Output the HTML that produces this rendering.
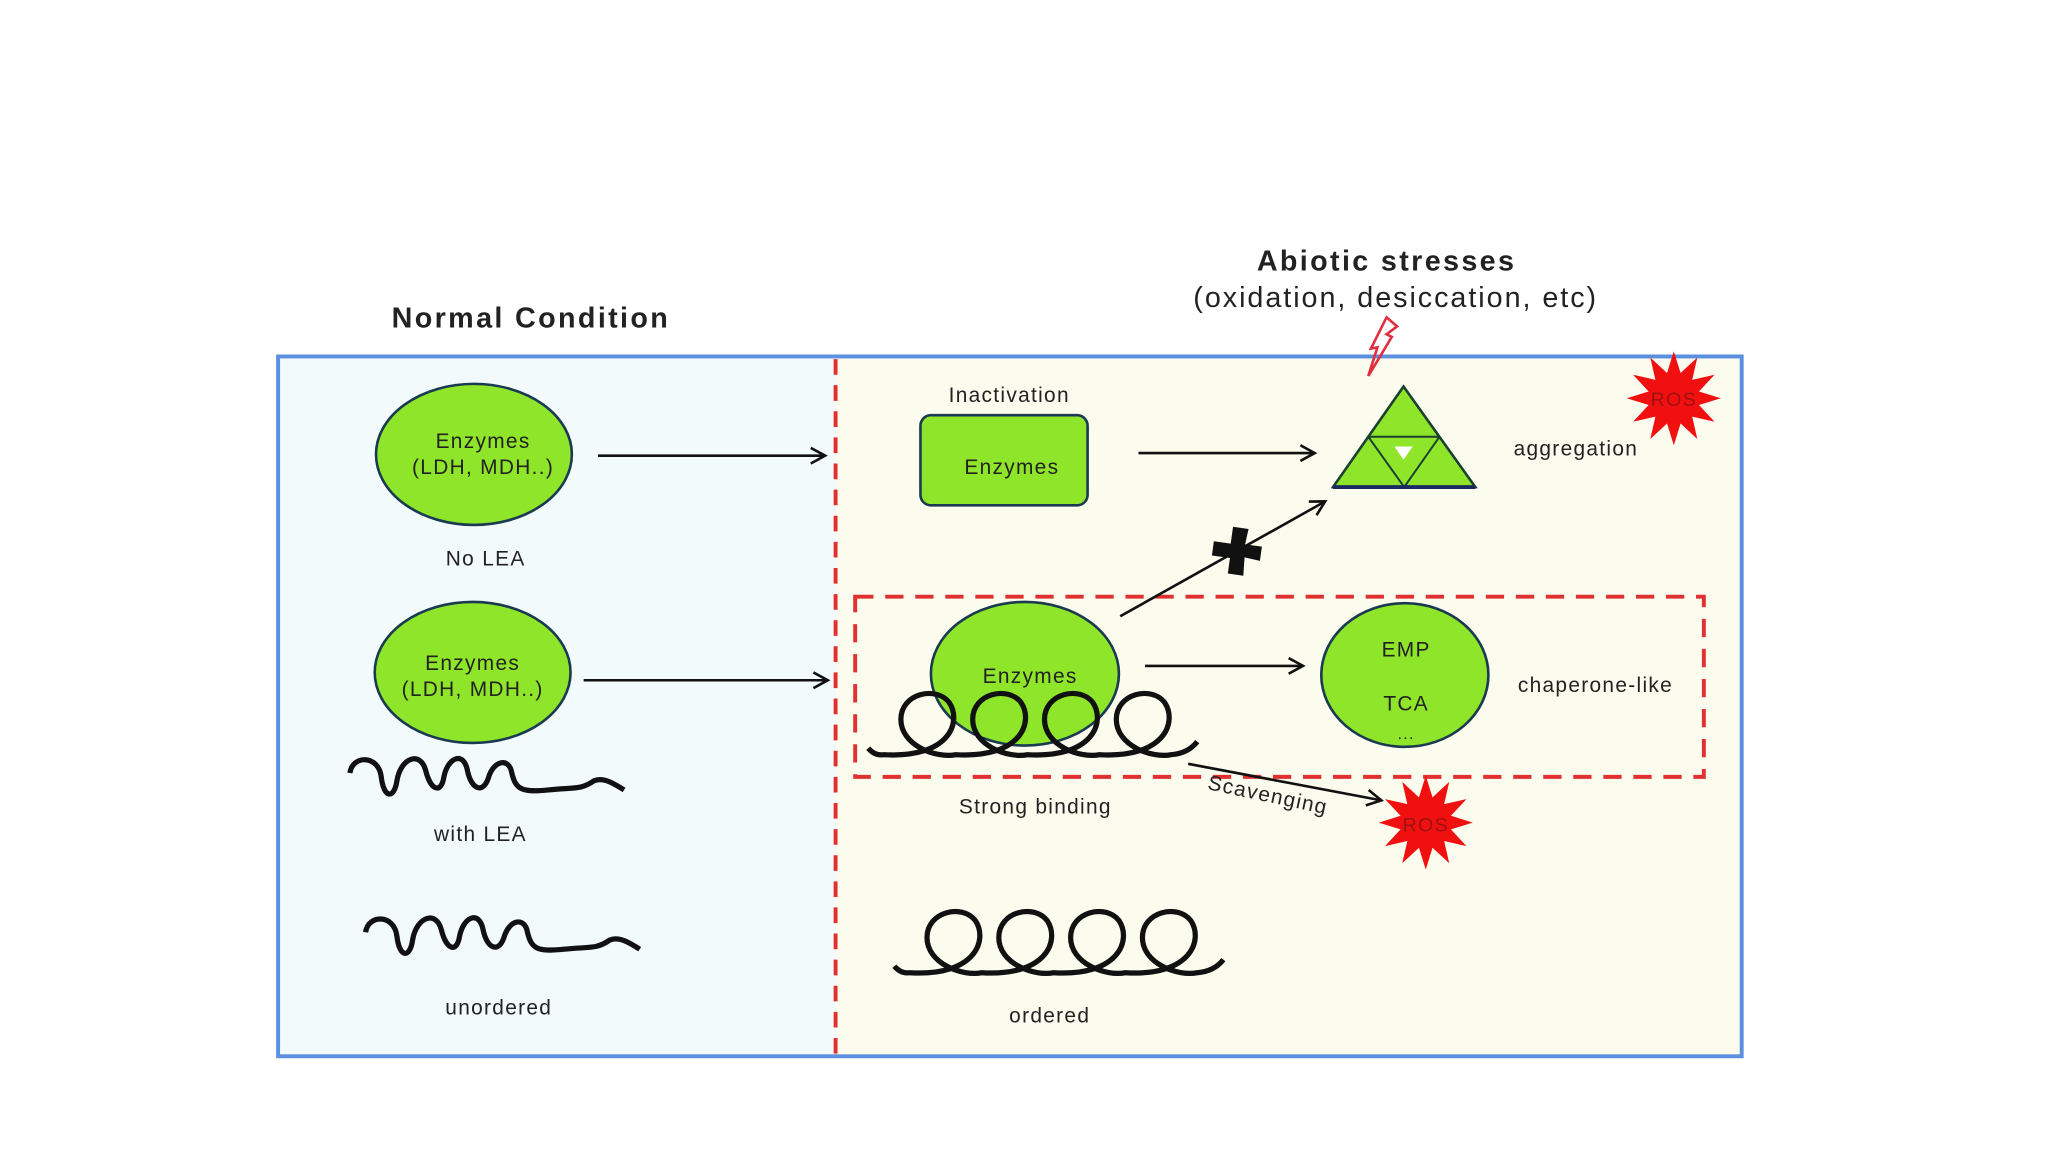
<!DOCTYPE html>
<html><head><meta charset="utf-8"><style>
html,body{margin:0;padding:0;background:#fff;}
svg{display:block;}
text{font-family:"Liberation Sans",sans-serif;fill:#222;letter-spacing:1px;}
</style></head><body>
<svg width="2048" height="1152" viewBox="0 0 1568.6 882.3" xmlns="http://www.w3.org/2000/svg">
<defs>
<marker id="ah" markerWidth="14" markerHeight="14" refX="12" refY="7" orient="auto" markerUnits="userSpaceOnUse">
<path d="M1,1 L12,7 L1,13" fill="none" stroke="#111" stroke-width="2"/>
</marker>
<polygon id="star" points="36,0 19.3,5.2 31.2,18 14.1,14.1 18,31.2 5.2,19.3 0,36 -5.2,19.3 -18,31.2 -14.1,14.1 -31.2,18 -19.3,5.2 -36,0 -19.3,-5.2 -31.2,-18 -14.1,-14.1 -18,-31.2 -5.2,-19.3 0,-36 5.2,-19.3 18,-31.2 14.1,-14.1 31.2,-18 19.3,-5.2" fill="#f01010"/>
<path id="coil" d="M685,740 Q690,746 697,745 C747,748 757,720 747,705 C737,692 710,698 710,718 C710,738 737,748 752,745 C802,748 812,720 802,705 C792,692 765,698 765,718 C765,738 792,748 807,745 C857,748 867,720 857,705 C847,692 820,698 820,718 C820,738 847,748 862,745 C912,748 922,720 912,705 C902,692 875,698 875,718 C875,738 902,748 917,745 Q930,744 937,735" fill="none" stroke="#111" stroke-width="4"/>
<path id="wave" d="M268,592 C270,578 290,578 292,595 C294,612 302,612 304,598 C307,580 322,575 326,590 C330,606 338,608 340,595 C343,580 355,575 358,590 C361,605 370,608 374,596 C378,582 390,580 392,592 C395,605 400,607 420,605 C440,603 445,605 455,598 C462,595 470,600 478,605" fill="none" stroke="#111" stroke-width="4"/>
</defs>

<rect x="213" y="273" width="427" height="536" fill="#f3fafc"/>
<rect x="640" y="273" width="694" height="536" fill="#fbfbee"/>
<rect x="213" y="273" width="1121" height="536" fill="none" stroke="#5b8fe0" stroke-width="3"/>
<line x1="640" y1="275" x2="640" y2="808" stroke="#e03030" stroke-width="3" stroke-dasharray="12,8"/>
<rect x="655" y="457" width="650" height="138" fill="none" stroke="#e03030" stroke-width="3" stroke-dasharray="14,9"/>

<text x="300" y="251" font-size="22" font-weight="bold" style="letter-spacing:1.8px">Normal Condition</text>
<text x="1062" y="207" font-size="22" font-weight="bold" text-anchor="middle" style="letter-spacing:1.8px">Abiotic stresses</text>
<text x="1069" y="235" font-size="22" text-anchor="middle" style="letter-spacing:1.5px">(oxidation, desiccation, etc)</text>

<ellipse cx="363" cy="348" rx="75" ry="54" fill="#8fe52a" stroke="#1a3a50" stroke-width="2"/>
<text x="370" y="343" font-size="16" text-anchor="middle">Enzymes</text>
<text x="370" y="363" font-size="16" text-anchor="middle">(LDH, MDH..)</text>
<text x="372" y="433" font-size="16" text-anchor="middle">No LEA</text>
<line x1="458" y1="349" x2="632" y2="349" stroke="#111" stroke-width="2" marker-end="url(#ah)"/>

<ellipse cx="362" cy="515" rx="75" ry="54" fill="#8fe52a" stroke="#1a3a50" stroke-width="2"/>
<text x="362" y="513" font-size="16" text-anchor="middle">Enzymes</text>
<text x="362" y="533" font-size="16" text-anchor="middle">(LDH, MDH..)</text>
<line x1="447" y1="521" x2="634" y2="521" stroke="#111" stroke-width="2" marker-end="url(#ah)"/>
<use href="#wave"/>
<text x="368" y="644" font-size="16" text-anchor="middle">with LEA</text>
<use href="#wave" transform="translate(12,122)"/>
<text x="382" y="777" font-size="16" text-anchor="middle">unordered</text>

<text x="773" y="308" font-size="16" text-anchor="middle">Inactivation</text>
<rect x="705" y="318" width="128" height="69" rx="8" fill="#8fe52a" stroke="#1a3a50" stroke-width="2"/>
<text x="775" y="363" font-size="16" text-anchor="middle">Enzymes</text>
<line x1="872" y1="347" x2="1007" y2="347" stroke="#111" stroke-width="2" marker-end="url(#ah)"/>

<polygon points="1075,296 1021,373 1130,373" fill="#8fe52a" stroke="#1a4030" stroke-width="2"/>
<line x1="1048" y1="334.5" x2="1102.5" y2="334.5" stroke="#1a4030" stroke-width="1.5"/>
<line x1="1048" y1="334.5" x2="1075.5" y2="373" stroke="#1a4030" stroke-width="1.5"/>
<line x1="1102.5" y1="334.5" x2="1075.5" y2="373" stroke="#1a4030" stroke-width="1.5"/>
<polygon points="1068,342 1082,342 1075,352" fill="#fff"/>
<line x1="1021" y1="373" x2="1130" y2="373" stroke="#1a2a60" stroke-width="3"/>
<text x="1207" y="349" font-size="16" text-anchor="middle">aggregation</text>
<g transform="translate(1282,305)"><use href="#star"/></g>
<text x="1282" y="311" font-size="15" text-anchor="middle" style="fill:#a01010">ROS</text>
<path d="M1048,288 L1055,266 L1050,267 L1062,243 L1070,250 L1062,256 L1066,258 L1048,288" fill="none" stroke="#e03040" stroke-width="2"/>

<line x1="858" y1="472" x2="1015" y2="384" stroke="#111" stroke-width="2" marker-end="url(#ah)"/>
<path d="M942,404 L954,404 L953,416 L966,416 L966,427 L954,426 L955,440 L943,440 L943,428 L929,428 L929,417 L942,417 Z" fill="#111" transform="rotate(8 947 421)"/>

<ellipse cx="785" cy="516" rx="72" ry="55" fill="#8fe52a" stroke="#1a3a50" stroke-width="2"/>
<text x="789" y="523" font-size="16" text-anchor="middle">Enzymes</text>
<use href="#coil" transform="translate(-20,-167)"/>
<line x1="877" y1="510" x2="998" y2="510" stroke="#111" stroke-width="2" marker-end="url(#ah)"/>
<ellipse cx="1076" cy="517" rx="64" ry="55" fill="#8fe52a" stroke="#1a3a50" stroke-width="2"/>
<text x="1077" y="503" font-size="16" text-anchor="middle">EMP</text>
<text x="1077" y="544" font-size="16" text-anchor="middle">TCA</text>
<text x="1077" y="566" font-size="12" text-anchor="middle">...</text>
<text x="1222" y="530" font-size="16" text-anchor="middle">chaperone-like</text>
<text x="793" y="623" font-size="16" text-anchor="middle">Strong binding</text>
<line x1="910" y1="585" x2="1058" y2="613" stroke="#111" stroke-width="2" marker-end="url(#ah)"/>
<text x="970" y="614" font-size="16" text-anchor="middle" transform="rotate(12 970 614)">Scavenging</text>
<g transform="translate(1092,630)"><use href="#star"/></g>
<text x="1092" y="637" font-size="15" text-anchor="middle" style="fill:#a01010">ROS</text>

<use href="#coil"/>
<text x="804" y="783" font-size="16" text-anchor="middle">ordered</text>
</svg>
</body></html>
